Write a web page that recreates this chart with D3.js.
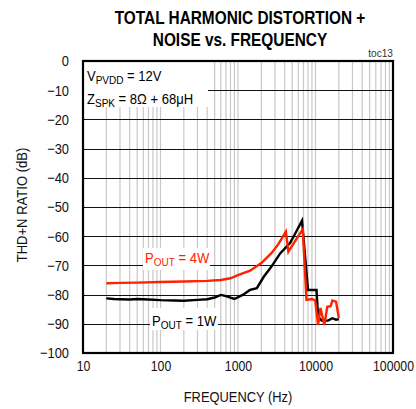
<!DOCTYPE html>
<html>
<head>
<meta charset="utf-8">
<script src="https://cdn.jsdelivr.net/npm/d3@7"></script>
<style>
  html, body { margin: 0; padding: 0; background: #fff; }
  svg { display: block; }
  text { font-family: "Liberation Sans", Arial, sans-serif; }
</style>
</head>
<body>
<svg id="chart" width="416" height="409"></svg>
<script>
// ---- Data ----
const titleLines = ["TOTAL HARMONIC DISTORTION +", "NOISE vs. FREQUENCY"];
const xTickValues = [10, 100, 1000, 10000, 100000];
const xTickLabels = ["10", "100", "1000", "10000", "100000"];
const yTickValues = [0, -10, -20, -30, -40, -50, -60, -70, -80, -90, -100];

const freq4W = [20, 30, 50, 100, 200, 400, 600, 800, 1000, 1430, 2000, 2700, 3300, 4150, 4470, 5500, 6850, 7650, 9000, 9900, 10800, 11600, 13000, 14200, 15700, 16500, 18400, 20000];
const thd4W  = [-76.1, -76.0, -75.9, -75.7, -75.5, -75.3, -75.0, -74.4, -73.3, -71.8, -69.2, -65.8, -62.8, -58.4, -65.3, -61.5, -57.6, -81.8, -81.5, -82.0, -90.4, -84.6, -90.4, -84.2, -84.0, -82.0, -82.4, -88.0];

const freq1W = [20, 25, 30, 40, 50, 70, 100, 150, 200, 300, 400, 500, 600, 700, 900, 1150, 1430, 1750, 2150, 2700, 3500, 4700, 5200, 6700, 8000, 10300, 10800, 12000, 14500, 16500, 18400, 20000];
const thd1W  = [-81.3, -81.5, -81.6, -81.7, -81.5, -81.7, -81.9, -82.0, -82.1, -81.8, -81.6, -81.0, -80.1, -80.5, -81.5, -80.1, -78.4, -77.8, -73.9, -70.4, -65.9, -62.3, -60.2, -54.7, -78.4, -78.4, -87.6, -88.9, -88.9, -88.1, -88.6, -88.4];

// ---- Layout ----
const svg = d3.select("#chart");
const L = 83, R = 393, T = 61, B = 353;
const x = d3.scaleLog().domain([10, 100000]).range([L, R]);
const y = d3.scaleLinear().domain([-100, 0]).range([B, T]);

// horizontally condense a text element around its x anchor
function condense(sel, k) {
  sel.each(function () {
    const el = d3.select(this);
    const ax = +el.attr("x") || 0;
    const prev = el.attr("transform") || "";
    el.attr("transform", `${prev} translate(${ax},0) scale(${k},1) translate(${-ax},0)`);
  });
}

// minor gridlines (vertical)
const vGrid = [];
for (let d = 10; d < 100000; d *= 10) for (let m = 1; m < 10; m++) { if (d * m > 10) vGrid.push(d * m); }
svg.append("g").selectAll("line").data(vGrid).join("line")
  .attr("x1", d => x(d)).attr("x2", d => x(d))
  .attr("y1", T).attr("y2", B)
  .attr("stroke", "#c8c8c8").attr("stroke-width", 1.2);

// horizontal gridlines
svg.append("g").selectAll("line").data(yTickValues.filter(v => v > -100 && v < 0)).join("line")
  .attr("x1", L).attr("x2", R)
  .attr("y1", d => Math.round(y(d)) + 0.5).attr("y2", d => Math.round(y(d)) + 0.5)
  .attr("stroke", "#111").attr("stroke-width", 1);

// white boxes behind annotations
const boxes = [[84, 62, 124, 45], [143, 248, 67, 22], [150, 308, 68, 22]];
svg.append("g").selectAll("rect").data(boxes).join("rect")
  .attr("x", d => d[0]).attr("y", d => d[1]).attr("width", d => d[2]).attr("height", d => d[3])
  .attr("fill", "#fff");

// axes (tick labels only)
const xAxis = d3.axisBottom(x).tickValues(xTickValues).tickFormat((d, i) => xTickLabels[i]).tickSize(0).tickPadding(7);
const gx = svg.append("g").attr("transform", `translate(0,${B})`).call(xAxis);
gx.select(".domain").remove();
gx.attr("font-family", null).attr("font-size", null);
gx.selectAll("text").attr("font-size", 15).attr("fill", "#111");
condense(gx.selectAll("text"), 0.82);

const yAxis = d3.axisLeft(y).tickValues(yTickValues).tickFormat(d3.format("d")).tickSize(0).tickPadding(14);
const gy = svg.append("g").attr("transform", `translate(${L},0)`).call(yAxis);
gy.select(".domain").remove();
gy.attr("font-family", null).attr("font-size", null);
gy.selectAll("text").attr("font-size", 15).attr("fill", "#111");
condense(gy.selectAll("text"), 0.86);

// curves
const line = d3.line().x(d => x(d[0])).y(d => y(d[1]));
svg.append("path").datum(d3.zip(freq1W, thd1W))
  .attr("d", line).attr("fill", "none").attr("stroke", "#000").attr("stroke-width", 2.4);
svg.append("path").datum(d3.zip(freq4W, thd4W))
  .attr("d", line).attr("fill", "none").attr("stroke", "#ff2200").attr("stroke-width", 2.4);

// frame
svg.append("rect").attr("x", L).attr("y", T).attr("width", R - L).attr("height", B - T)
  .attr("fill", "none").attr("stroke", "#000").attr("stroke-width", 2.2);

// title
const tt = svg.append("g").selectAll("text").data(titleLines).join("text")
  .attr("x", 240).attr("y", (d, i) => 24 + i * 22)
  .attr("text-anchor", "middle").attr("font-weight", "bold").attr("font-size", 17.5).attr("fill", "#000")
  .text(d => d);
condense(tt, 0.88);

// toc label
const toc = svg.append("text").attr("x", 393).attr("y", 57).attr("text-anchor", "end")
  .attr("font-size", 11.5).attr("fill", "#333").text("toc13");
condense(toc, 0.88);

// axis titles
const xt = svg.append("text").attr("x", 238).attr("y", 402).attr("text-anchor", "middle")
  .attr("font-size", 15).attr("fill", "#111").text("FREQUENCY (Hz)");
condense(xt, 0.86);
svg.append("text").attr("transform", "translate(27,205) rotate(-90) scale(0.87,1)").attr("text-anchor", "middle")
  .attr("font-size", 15).attr("fill", "#111").text("THD+N RATIO (dB)");

// annotations with subscripts
function subText(xp, yp, main, sub, rest, color) {
  const t = svg.append("text").attr("x", xp).attr("y", yp).attr("font-size", 15).attr("fill", color);
  t.append("tspan").text(main);
  t.append("tspan").attr("font-size", 11.5).attr("dy", 3).text(sub);
  t.append("tspan").attr("dy", -3).text(rest);
  condense(t, 0.87);
}
subText(87, 81, "V", "PVDD", " = 12V", "#000");
subText(87, 104, "Z", "SPK", " = 8Ω + 68μH", "#000");
subText(145, 263, "P", "OUT", " = 4W", "#ff2200");
subText(152, 326, "P", "OUT", " = 1W", "#000");
</script>
</body>
</html>
